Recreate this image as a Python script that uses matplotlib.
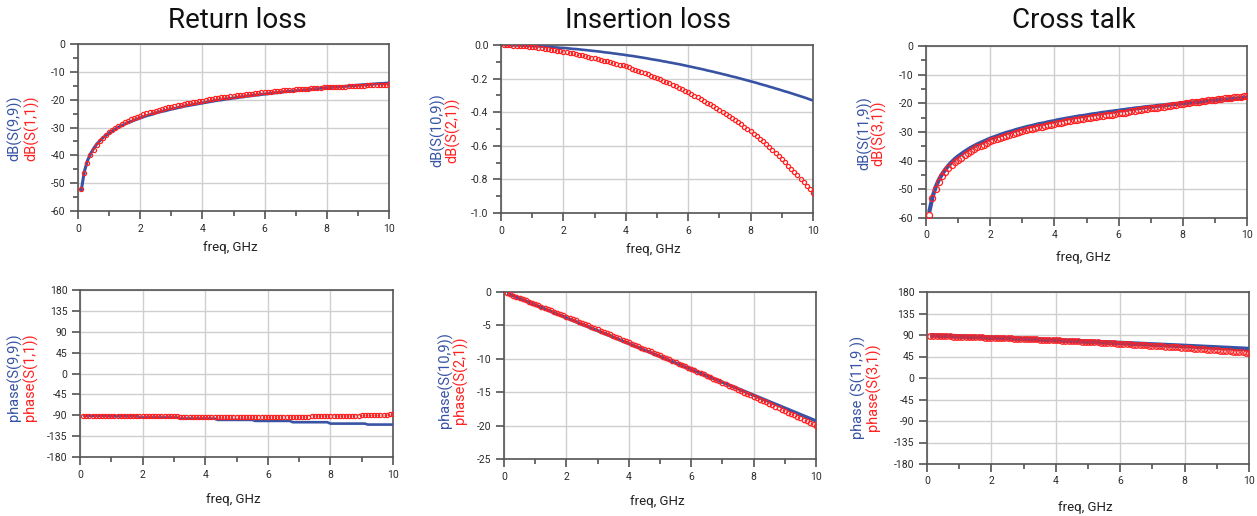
import numpy as np
import matplotlib
matplotlib.use("Agg")
import matplotlib.pyplot as plt
from matplotlib.ticker import MultipleLocator, FuncFormatter

# ---------------- data ----------------
freq = [round(0.1 * i, 1) for i in range(1, 101)]  # GHz

rl_s99 = [-53.0, -46.0, -42.0, -39.5, -37.6, -36.0, -34.8, -33.7, -32.8, -32.0,
          -31.3, -30.6, -29.9, -29.4, -28.8, -28.3, -27.9, -27.4, -27.0, -26.6,
          -26.2, -25.8, -25.5, -25.2, -24.8, -24.5, -24.2, -24.0, -23.7, -23.4,
          -23.2, -22.9, -22.7, -22.4, -22.2, -22.0, -21.8, -21.6, -21.4, -21.2,
          -21.0, -20.8, -20.6, -20.4, -20.2, -20.1, -19.9, -19.7, -19.6, -19.4,
          -19.3, -19.1, -19.0, -18.8, -18.7, -18.5, -18.4, -18.3, -18.1, -18.0,
          -17.9, -17.7, -17.6, -17.5, -17.4, -17.2, -17.1, -17.0, -16.9, -16.8,
          -16.7, -16.6, -16.5, -16.4, -16.3, -16.1, -16.1, -15.9, -15.8, -15.7,
          -15.7, -15.5, -15.5, -15.4, -15.3, -15.2, -15.1, -15.0, -14.9, -14.8,
          -14.7, -14.6, -14.6, -14.5, -14.4, -14.3, -14.2, -14.2, -14.1, -14.0]
rl_s11 = [-52.0, -46.3, -42.6, -40.0, -38.0, -36.3, -34.9, -33.7, -32.6, -31.7,
          -30.9, -30.1, -29.4, -28.8, -28.1, -27.6, -27.1, -26.6, -26.1, -25.7,
          -25.3, -24.9, -24.6, -24.3, -23.9, -23.6, -23.3, -23.1, -22.8, -22.5,
          -22.3, -22.0, -21.8, -21.5, -21.3, -21.1, -20.9, -20.7, -20.5, -20.3,
          -20.1, -19.9, -19.7, -19.5, -19.4, -19.2, -19.1, -18.9, -18.8, -18.6,
          -18.5, -18.3, -18.2, -18.1, -17.9, -17.8, -17.7, -17.6, -17.4, -17.3,
          -17.2, -17.1, -17.0, -16.9, -16.8, -16.6, -16.6, -16.5, -16.4, -16.3,
          -16.2, -16.2, -16.1, -16.0, -15.9, -15.8, -15.8, -15.7, -15.6, -15.6,
          -15.6, -15.5, -15.5, -15.4, -15.4, -15.3, -15.2, -15.2, -15.1, -15.1,
          -15.0, -15.0, -14.9, -14.9, -14.8, -14.8, -14.7, -14.7, -14.6, -14.5]

il_s109 = [-0.000, -0.001, -0.001, -0.002, -0.002, -0.003, -0.004, -0.004, -0.005, -0.006,
           -0.007, -0.008, -0.009, -0.010, -0.011, -0.012, -0.014, -0.015, -0.017, -0.018,
           -0.019, -0.021, -0.023, -0.024, -0.026, -0.028, -0.030, -0.032, -0.034, -0.036,
           -0.038, -0.040, -0.043, -0.045, -0.047, -0.050, -0.052, -0.055, -0.057, -0.060,
           -0.063, -0.065, -0.068, -0.071, -0.074, -0.077, -0.080, -0.084, -0.087, -0.090,
           -0.093, -0.097, -0.100, -0.104, -0.107, -0.111, -0.114, -0.118, -0.122, -0.126,
           -0.130, -0.134, -0.138, -0.142, -0.146, -0.151, -0.155, -0.159, -0.164, -0.168,
           -0.173, -0.177, -0.182, -0.187, -0.191, -0.196, -0.201, -0.206, -0.211, -0.216,
           -0.221, -0.226, -0.232, -0.237, -0.242, -0.248, -0.253, -0.259, -0.264, -0.270,
           -0.276, -0.281, -0.287, -0.293, -0.299, -0.305, -0.311, -0.317, -0.324, -0.330]
il_s21 = [-0.001, -0.002, -0.002, -0.003, -0.004, -0.005, -0.007, -0.008, -0.010, -0.012,
          -0.014, -0.016, -0.019, -0.022, -0.025, -0.028, -0.031, -0.034, -0.037, -0.040,
          -0.043, -0.047, -0.050, -0.054, -0.058, -0.062, -0.066, -0.071, -0.075, -0.080,
          -0.084, -0.089, -0.093, -0.098, -0.102, -0.107, -0.112, -0.117, -0.122, -0.127,
          -0.133, -0.140, -0.146, -0.153, -0.160, -0.167, -0.174, -0.182, -0.189, -0.197,
          -0.205, -0.213, -0.221, -0.229, -0.237, -0.246, -0.255, -0.264, -0.273, -0.282,
          -0.292, -0.302, -0.312, -0.322, -0.332, -0.343, -0.354, -0.364, -0.375, -0.386,
          -0.398, -0.410, -0.422, -0.434, -0.447, -0.460, -0.473, -0.486, -0.500, -0.513,
          -0.528, -0.543, -0.559, -0.574, -0.590, -0.608, -0.626, -0.644, -0.662, -0.680,
          -0.699, -0.718, -0.737, -0.756, -0.775, -0.796, -0.817, -0.838, -0.859, -0.880]

ct_s119 = [-58.0, -52.8, -49.2, -46.7, -44.7, -43.1, -41.7, -40.5, -39.4, -38.5,
           -37.7, -36.9, -36.2, -35.5, -34.9, -34.3, -33.8, -33.3, -32.8, -32.3,
           -31.9, -31.5, -31.1, -30.7, -30.3, -30.0, -29.7, -29.3, -29.0, -28.7,
           -28.4, -28.1, -27.9, -27.6, -27.3, -27.1, -26.9, -26.6, -26.4, -26.2,
           -25.9, -25.7, -25.5, -25.3, -25.1, -24.9, -24.7, -24.5, -24.4, -24.2,
           -24.0, -23.8, -23.7, -23.5, -23.3, -23.2, -23.0, -22.9, -22.7, -22.6,
           -22.4, -22.3, -22.1, -22.0, -21.8, -21.7, -21.6, -21.4, -21.3, -21.2,
           -21.1, -20.9, -20.8, -20.7, -20.6, -20.4, -20.3, -20.2, -20.1, -20.0,
           -19.9, -19.8, -19.7, -19.6, -19.5, -19.4, -19.2, -19.1, -19.0, -18.9,
           -18.8, -18.7, -18.7, -18.6, -18.5, -18.4, -18.3, -18.2, -18.1, -18.0]
ct_s31 = [-59.0, -53.0, -49.8, -47.3, -45.5, -44.0, -42.7, -41.6, -40.5, -39.7,
          -38.9, -38.1, -37.4, -36.7, -36.0, -35.4, -34.9, -34.4, -33.8, -33.3,
          -32.9, -32.5, -32.1, -31.7, -31.3, -31.0, -30.7, -30.3, -30.0, -29.7,
          -29.4, -29.1, -28.9, -28.6, -28.3, -28.1, -27.9, -27.6, -27.4, -27.2,
          -26.9, -26.7, -26.5, -26.3, -26.1, -25.9, -25.7, -25.5, -25.4, -25.2,
          -25.0, -24.8, -24.7, -24.5, -24.3, -24.2, -24.0, -23.9, -23.7, -23.5,
          -23.3, -23.2, -23.0, -22.8, -22.6, -22.5, -22.3, -22.1, -22.0, -21.8,
          -21.7, -21.5, -21.3, -21.2, -21.0, -20.8, -20.7, -20.5, -20.3, -20.2,
          -20.0, -19.9, -19.7, -19.6, -19.4, -19.3, -19.1, -19.0, -18.8, -18.7,
          -18.6, -18.4, -18.3, -18.2, -18.1, -17.9, -17.8, -17.7, -17.6, -17.5]

ph_s99 = ([-91.4] * 8 + [-92.2] * 10 + [-94.8] * 13 + [-97.2] * 12 + [-100.0] * 12
          + [-102.2] * 12 + [-105.0] * 12 + [-108.0] * 12 + [-110.1] * 9)
ph_s11 = ([-91.5] * 31 + [-93.5] * 42 + [-91.8] * 16 + [-89.5] * 9 + [-87.5] * 2)

ph_s109 = [-0.19, -0.39, -0.58, -0.77, -0.97, -1.16, -1.35, -1.54, -1.74, -1.93,
           -2.12, -2.32, -2.51, -2.70, -2.90, -3.09, -3.28, -3.47, -3.67, -3.86,
           -4.05, -4.25, -4.44, -4.63, -4.83, -5.02, -5.21, -5.40, -5.60, -5.79,
           -5.98, -6.18, -6.37, -6.56, -6.76, -6.95, -7.14, -7.33, -7.53, -7.72,
           -7.91, -8.11, -8.30, -8.49, -8.69, -8.88, -9.07, -9.26, -9.46, -9.65,
           -9.84, -10.04, -10.23, -10.42, -10.62, -10.81, -11.00, -11.19, -11.39, -11.58,
           -11.77, -11.97, -12.16, -12.35, -12.55, -12.74, -12.93, -13.12, -13.32, -13.51,
           -13.70, -13.90, -14.09, -14.28, -14.48, -14.67, -14.86, -15.05, -15.25, -15.44,
           -15.63, -15.83, -16.02, -16.21, -16.41, -16.60, -16.79, -16.98, -17.18, -17.37,
           -17.56, -17.76, -17.95, -18.14, -18.34, -18.53, -18.72, -18.91, -19.11, -19.30]
ph_s21 = [-0.18, -0.36, -0.54, -0.72, -0.91, -1.09, -1.27, -1.45, -1.64, -1.82,
          -2.00, -2.19, -2.37, -2.56, -2.75, -2.93, -3.12, -3.30, -3.49, -3.68,
          -3.87, -4.06, -4.25, -4.44, -4.63, -4.82, -5.01, -5.20, -5.39, -5.58,
          -5.77, -5.96, -6.16, -6.35, -6.55, -6.74, -6.93, -7.13, -7.32, -7.52,
          -7.72, -7.91, -8.11, -8.31, -8.51, -8.70, -8.90, -9.10, -9.30, -9.50,
          -9.70, -9.90, -10.10, -10.30, -10.51, -10.71, -10.91, -11.11, -11.32, -11.52,
          -11.72, -11.93, -12.13, -12.34, -12.55, -12.75, -12.96, -13.16, -13.37, -13.58,
          -13.79, -14.00, -14.21, -14.42, -14.63, -14.84, -15.05, -15.26, -15.47, -15.68,
          -15.89, -16.10, -16.32, -16.53, -16.75, -16.96, -17.17, -17.39, -17.60, -17.82,
          -18.04, -18.25, -18.47, -18.69, -18.91, -19.12, -19.34, -19.56, -19.78, -20.00]

ph_s119 = [89.2, 89.0, 88.7, 88.5, 88.2, 88.0, 87.7, 87.5, 87.2, 87.0,
           86.7, 86.4, 86.2, 85.9, 85.7, 85.4, 85.1, 84.9, 84.6, 84.3,
           84.1, 83.8, 83.5, 83.3, 83.0, 82.7, 82.5, 82.2, 81.9, 81.6,
           81.4, 81.1, 80.8, 80.5, 80.3, 80.0, 79.7, 79.4, 79.1, 78.9,
           78.6, 78.3, 78.0, 77.7, 77.4, 77.2, 76.9, 76.6, 76.3, 76.0,
           75.7, 75.4, 75.1, 74.8, 74.5, 74.2, 73.9, 73.7, 73.4, 73.1,
           72.8, 72.5, 72.2, 71.9, 71.6, 71.3, 71.0, 70.7, 70.3, 70.0,
           69.7, 69.4, 69.1, 68.8, 68.5, 68.2, 67.9, 67.6, 67.3, 66.9,
           66.6, 66.3, 66.0, 65.7, 65.4, 65.0, 64.7, 64.4, 64.1, 63.8,
           63.4, 63.1, 62.8, 62.5, 62.1, 61.8, 61.5, 61.2, 60.8, 60.5]
ph_s31 = [87.9, 87.7, 87.5, 87.4, 87.2, 87.1, 86.9, 86.7, 86.5, 86.3,
          86.2, 85.9, 85.8, 85.6, 85.4, 85.1, 84.9, 84.7, 84.5, 84.3,
          84.0, 83.8, 83.6, 83.3, 83.1, 82.8, 82.6, 82.3, 82.0, 81.8,
          81.5, 81.2, 80.9, 80.6, 80.4, 80.1, 79.8, 79.5, 79.1, 78.8,
          78.5, 78.2, 77.9, 77.6, 77.2, 76.9, 76.5, 76.2, 75.9, 75.5,
          75.1, 74.8, 74.4, 74.0, 73.7, 73.3, 72.9, 72.5, 72.1, 71.7,
          71.3, 70.9, 70.5, 70.1, 69.7, 69.3, 68.9, 68.4, 68.0, 67.6,
          67.1, 66.7, 66.2, 65.8, 65.3, 64.8, 64.4, 63.9, 63.4, 63.0,
          62.5, 62.0, 61.5, 61.0, 60.5, 60.0, 59.5, 59.0, 58.5, 57.9,
          57.4, 56.9, 56.3, 55.8, 55.3, 54.7, 54.2, 53.6, 53.1, 52.5]

titles = ["Return loss", "Insertion loss", "Cross talk"]
xlabel = "freq, GHz"
ylabels = [("dB(S(9,9))", "dB(S(1,1))"), ("dB(S(10,9))", "dB(S(2,1))"), ("dB(S(11,9))", "dB(S(3,1))"),
           ("phase(S(9,9))", "phase(S(1,1))"), ("phase(S(10,9))", "phase(S(2,1))"),
           ("phase (S(11,9 ))", "phase(S(3,1))")]

# ---------------- style ----------------
plt.rcParams["font.family"] = ["Roboto", "DejaVu Sans"]
BLUE = "#3853a4"
RED = "#ff2222"
TICKC = "#2a2a2a"

W, H = 1257, 516
fig = plt.figure(figsize=(W / 100, H / 100), dpi=100)

def px_rect(l, r, t, b):
    return [l / W, 1 - b / H, (r - l) / W, (b - t) / H]

panels = [
    dict(rect=(78, 389, 44, 211), blue=rl_s99, red=rl_s11, ylim=(-60, 0), major=10, minor=5,
         fmt="{:.0f}", lw=2.2, ms=3.0, yl=(15, 32, 128), xl=(230, 248)),
    dict(rect=(501, 813, 45, 213), blue=il_s109, red=il_s21, ylim=(-1.0, 0.0), major=0.2, minor=0.1,
         fmt="{:.1f}", lw=1.9, ms=3.0, yl=(438, 453, 130), xl=(653, 250)),
    dict(rect=(926, 1247, 46, 218), blue=ct_s119, red=ct_s31, ylim=(-60, 0), major=10, minor=5,
         fmt="{:.0f}", lw=3.0, ms=4.4, yl=(865, 879, 133), xl=(1083, 257)),
    dict(rect=(80, 393, 290, 457), blue=ph_s99, red=ph_s11, ylim=(-180, 180), major=45, minor=None,
         fmt="{:.0f}", lw=1.9, ms=3.0, yl=(14, 30, 377), xl=(233, 500)),
    dict(rect=(504, 816, 292, 459), blue=ph_s109, red=ph_s21, ylim=(-25, 0), major=5, minor=None,
         fmt="{:.0f}", lw=2.4, ms=3.2, yl=(445, 460, 380), xl=(657, 502)),
    dict(rect=(927, 1249, 292, 464), blue=ph_s119, red=ph_s31, ylim=(-180, 180), major=45, minor=None,
         fmt="{:.0f}", lw=3.4, ms=4.0, yl=(858, 873, 387), xl=(1085, 508)),
]

def make_fmt(f):
    def _f(v, pos):
        s = f.format(v)
        if s.startswith("-") and float(s) == 0:
            s = s[1:]
        return s
    return FuncFormatter(_f)

for i, p in enumerate(panels):
    ax = fig.add_axes(px_rect(*p["rect"]))
    ax.plot(freq, p["blue"], color=BLUE, lw=p["lw"], zorder=3, solid_capstyle="butt")
    ax.plot(freq, p["red"], linestyle="none", marker="o", ms=p["ms"], mfc="none",
            mec=RED, mew=0.9, zorder=4)
    ax.set_xlim(0, 10)
    ax.set_ylim(*p["ylim"])
    ax.xaxis.set_major_locator(MultipleLocator(2))
    ax.xaxis.set_minor_locator(MultipleLocator(1))
    ax.yaxis.set_major_locator(MultipleLocator(p["major"]))
    if p["minor"]:
        ax.yaxis.set_minor_locator(MultipleLocator(p["minor"]))
    ax.yaxis.set_major_formatter(make_fmt(p["fmt"]))
    ax.xaxis.set_major_formatter(make_fmt("{:.0f}"))
    ax.grid(True, which="major", color="#cfcfcf", lw=1.0)
    ax.set_axisbelow(True)
    for s in ax.spines.values():
        s.set_color("#555555")
        s.set_linewidth(1.2)
    ax.tick_params(which="major", direction="out", length=6, width=1.1, color="#444444",
                   labelsize=7.5, labelcolor=TICKC, pad=3)
    ax.tick_params(which="minor", direction="out", length=3.5, width=1.1, color="#444444")
    bx, rx, cy = p["yl"]
    fig.text(bx / W, 1 - cy / H, ylabels[i][0], rotation=90, color=BLUE,
             ha="center", va="center", fontsize=10.5)
    fig.text(rx / W, 1 - cy / H, ylabels[i][1], rotation=90, color=RED,
             ha="center", va="center", fontsize=10.5)
    xx, yy = p["xl"]
    fig.text(xx / W, 1 - yy / H, xlabel, ha="center", va="center", fontsize=9.5, color="#222222")

for t, x in zip(titles, [237, 648, 1074]):
    fig.text(x / W, 1 - 20 / H, t, ha="center", va="center", fontsize=20, color="#111111")

fig.savefig("out.png", dpi=100)
